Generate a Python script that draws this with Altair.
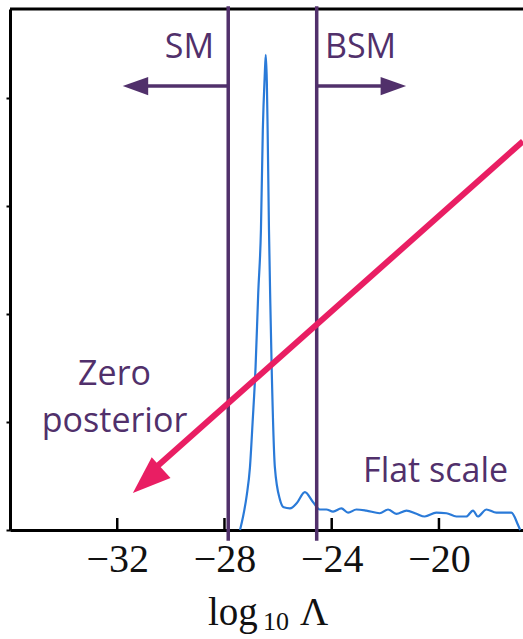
import altair as alt
import pandas as pd

# ---------------- data ----------------
curve_x = [-27.42, -27.31, -27.17, -27.05, -26.95, -26.84, -26.74, -26.64, -26.57, -26.50,
           -26.46, -26.42, -26.39, -26.34, -26.29, -26.24, -26.12, -25.93, -25.79, -25.56,
           -25.30, -25.00, -24.70, -24.45, -24.20, -23.95, -23.64, -23.39, -23.08, -22.71,
           -22.21, -21.90, -21.59, -21.21, -20.84, -20.53, -20.10, -19.72, -19.35, -18.98,
           -18.73, -18.55, -18.23, -17.86, -17.30, -17.05, -16.97]
curve_y = [0.00, 0.12, 0.32, 0.58, 1.00, 1.51, 2.20, 2.78, 3.70, 4.20,
           4.40, 4.15, 3.70, 2.78, 2.10, 1.51, 0.58, 0.28, 0.21, 0.20,
           0.25, 0.35, 0.26, 0.19, 0.19, 0.17, 0.20, 0.16, 0.19, 0.18,
           0.155, 0.19, 0.15, 0.18, 0.15, 0.125, 0.16, 0.155, 0.125, 0.125,
           0.18, 0.125, 0.19, 0.16, 0.16, 0.046, 0.00]

x_ticks = [-32, -28, -24, -20]
y_ticks = [0, 1, 2, 3, 4]
x_domain = [-36, -16.865]
y_domain = [0, 4.824]

boundary_x = [-27.86, -24.56]
boundary_y = [-0.10, 4.85]

# horizontal arrows (SM to the left, BSM to the right)
arrow_x_start = [-27.86, -24.56]
arrow_x_end = [-31.0, -22.0]
arrow_y = [4.11, 4.11]
arrow_head_x = [-31.32, -21.70]
arrow_head_shape = ["M-1,0L1,-0.72L1,0.72Z", "M1,0L-1,-0.72L-1,0.72Z"]

# pink diagonal arrow
pink_x = [-16.865, -30.55]
pink_y = [3.60, 0.58]
pink_head_x = [-30.89]
pink_head_y = [0.46]

labels_text = ["SM", "BSM", "Zero", "posterior", "Flat scale"]
labels_x = [-28.39, -24.25, -32.10, -32.10, -22.83]
labels_y = [4.37, 4.37, 1.34, 0.91, 0.444]
labels_align = ["right", "left", "center", "center", "left"]

PURPLE = "#51306b"
PINK = "#e91e63"
BLUE = "#2a7ad8"

xs = alt.Scale(domain=x_domain, nice=False, zero=False)
ys = alt.Scale(domain=y_domain, nice=False, zero=False)

curve_df = pd.DataFrame({"x": curve_x, "y": curve_y})

curve = alt.Chart(curve_df).mark_line(color=BLUE, strokeWidth=2.2, interpolate="monotone").encode(
    x=alt.X("x:Q", scale=xs, axis=alt.Axis(
        values=x_ticks, title=None, grid=False, ticks=False, tickSize=0,
        domainColor="black", domainWidth=3, labelFont="Liberation Serif",
        labelFontSize=40, labelColor="#111", labelPadding=9)),
    y=alt.Y("y:Q", scale=ys, axis=alt.Axis(
        values=y_ticks, title=None, grid=False, labels=False, ticks=True,
        tickSize=4, tickWidth=2, tickColor="black",
        domainColor="black", domainWidth=3)),
)

xtick_df = pd.DataFrame({"x": x_ticks})
xtick_marks = alt.Chart(xtick_df).mark_rule(color="black", strokeWidth=2.5).encode(
    x=alt.X("x:Q", scale=xs), y=alt.value(509), y2=alt.value(521)
)

top_border = alt.Chart(pd.DataFrame({"a": [0]})).mark_rule(color="black", strokeWidth=3).encode(
    x=alt.value(0), x2=alt.value(513), y=alt.value(0)
)

bdf = pd.DataFrame({"x": boundary_x, "y0": [boundary_y[0]] * 2, "y1": [boundary_y[1]] * 2})
boundaries = alt.Chart(bdf).mark_rule(color=PURPLE, strokeWidth=3.5).encode(
    x=alt.X("x:Q", scale=xs), y=alt.Y("y0:Q", scale=ys), y2="y1:Q"
)

adf = pd.DataFrame({"x0": arrow_x_start, "x1": arrow_x_end, "y": arrow_y})
arrow_lines = alt.Chart(adf).mark_rule(color=PURPLE, strokeWidth=3.5).encode(
    x=alt.X("x0:Q", scale=xs), x2="x1:Q", y=alt.Y("y:Q", scale=ys)
)
heads = []
for hx, hy, shp in zip(arrow_head_x, arrow_y, arrow_head_shape):
    heads.append(
        alt.Chart(pd.DataFrame({"x": [hx], "y": [hy]})).mark_point(
            shape=shp, filled=True, size=650, color=PURPLE, opacity=1, strokeWidth=0
        ).encode(x=alt.X("x:Q", scale=xs), y=alt.Y("y:Q", scale=ys))
    )

pdf = pd.DataFrame({"x": pink_x, "y": pink_y})
pink_line = alt.Chart(pdf).mark_line(color=PINK, strokeWidth=6).encode(
    x=alt.X("x:Q", scale=xs), y=alt.Y("y:Q", scale=ys)
)
pink_head = alt.Chart(pd.DataFrame({"x": pink_head_x, "y": pink_head_y})).mark_point(
    shape="M-1,0L1,-0.74L1,0.74Z", filled=True, size=1444, color=PINK, opacity=1,
    strokeWidth=0, angle=318
).encode(x=alt.X("x:Q", scale=xs), y=alt.Y("y:Q", scale=ys))

texts = []
for t, tx, ty, al in zip(labels_text, labels_x, labels_y, labels_align):
    texts.append(
        alt.Chart(pd.DataFrame({"x": [tx], "y": [ty], "t": [t]})).mark_text(
            font="Open Sans", fontSize=34, color=PURPLE, align=al, baseline="alphabetic"
        ).encode(x=alt.X("x:Q", scale=xs), y=alt.Y("y:Q", scale=ys), text="t:N")
    )

title_parts = ["log", "10", "Λ"]
title_x = [198, 253, 290]
title_y = [616, 621, 616]
title_size = [39, 26, 39]
title_layers = []
for t, tx, ty, fs in zip(title_parts, title_x, title_y, title_size):
    title_layers.append(
        alt.Chart(pd.DataFrame({"t": [t]})).mark_text(
            font="Liberation Serif", fontSize=fs, color="#111", align="left", baseline="alphabetic"
        ).encode(x=alt.value(tx), y=alt.value(ty), text="t:N")
    )

chart = alt.layer(
    curve, xtick_marks, top_border, boundaries, arrow_lines, *heads, *texts,
    pink_line, pink_head, *title_layers
).properties(
    width=513, height=521, autosize="none",
    padding={"left": 10, "top": 9, "right": 0, "bottom": 109},
).configure_view(stroke=None).configure(background="white")

chart.save("out.html", embed_options={"renderer": "svg", "actions": False})
